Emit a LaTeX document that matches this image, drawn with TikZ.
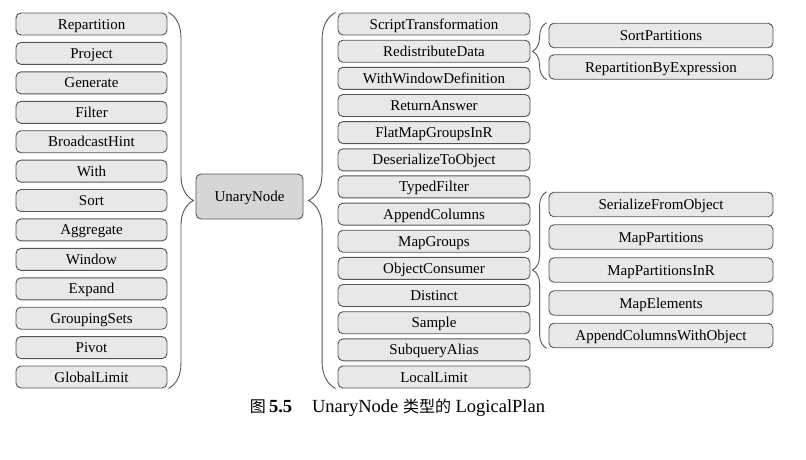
\documentclass[tikz,border=0pt]{standalone}
\usepackage{fontspec}
\setmainfont{Liberation Serif}
\newfontfamily\cjk{Noto Sans CJK SC}
\usetikzlibrary{decorations.pathreplacing}
\definecolor{boxfill}{RGB}{232,232,232}
\definecolor{unaryfill}{RGB}{214,214,214}
\definecolor{boxline}{RGB}{85,85,85}
\tikzset{
  planbox/.style={draw=boxline, fill=boxfill, rounded corners=5pt, line width=0.9pt,
    inner sep=0pt, minimum height=22pt, text height=10pt, text depth=0pt,
    font=\fontsize{15}{18}\selectfont},
  leftbox/.style={planbox, minimum width=151pt},
  midbox/.style={planbox, minimum width=192pt},
  rightbox/.style={planbox, minimum width=224pt, minimum height=24.5pt},
  groupbrace/.style={draw=boxline, line width=0.9pt, decorate,
    decoration={brace, amplitude=#1}}
}
\begin{document}
\begin{tikzpicture}[x=1pt, y=-1pt]
\useasboundingbox (0,0) rectangle (806,459);
\node[leftbox] (repartition) at (91.5,24) {Repartition};
\node[leftbox] (project) at (91.5,53.4) {Project};
\node[leftbox] (generate) at (91.5,82.8) {Generate};
\node[leftbox] (filter) at (91.5,112.3) {Filter};
\node[leftbox] (broadcasthint) at (91.5,141.7) {BroadcastHint};
\node[leftbox] (with) at (91.5,171.1) {With};
\node[leftbox] (sort) at (91.5,200.5) {Sort};
\node[leftbox] (aggregate) at (91.5,229.9) {Aggregate};
\node[leftbox] (window) at (91.5,259.4) {Window};
\node[leftbox] (expand) at (91.5,288.8) {Expand};
\node[leftbox] (groupingsets) at (91.5,318.2) {GroupingSets};
\node[leftbox] (pivot) at (91.5,347.6) {Pivot};
\node[leftbox] (globallimit) at (91.5,377) {GlobalLimit};

\node[planbox, fill=unaryfill, minimum width=107pt, minimum height=45pt] (unarynode) at (249.5,196.5) {UnaryNode};

\node[midbox] (scripttrans) at (434,24) {ScriptTransformation};
\node[midbox] (redistribute) at (434,51.2) {RedistributeData};
\node[midbox] (withwindow) at (434,78.3) {WithWindowDefinition};
\node[midbox] (returnanswer) at (434,105.5) {ReturnAnswer};
\node[midbox] (flatmapgroups) at (434,132.6) {FlatMapGroupsInR};
\node[midbox] (deserialize) at (434,159.8) {DeserializeToObject};
\node[midbox] (typedfilter) at (434,186.9) {TypedFilter};
\node[midbox] (appendcolumns) at (434,214.1) {AppendColumns};
\node[midbox] (mapgroups) at (434,241.2) {MapGroups};
\node[midbox] (objconsumer) at (434,268.4) {ObjectConsumer};
\node[midbox] (distinct) at (434,295.5) {Distinct};
\node[midbox] (sample) at (434,322.7) {Sample};
\node[midbox] (subqueryalias) at (434,349.8) {SubqueryAlias};
\node[midbox] (locallimit) at (434,377) {LocalLimit};

\node[rightbox] (sortpartitions) at (661,35.5) {SortPartitions};
\node[rightbox] (repartbyexpr) at (661,67) {RepartitionByExpression};

\node[rightbox] (serialize) at (661,204.5) {SerializeFromObject};
\node[rightbox] (mappartitions) at (661,237) {MapPartitions};
\node[rightbox] (mappartitionsr) at (661,270) {MapPartitionsInR};
\node[rightbox] (mapelements) at (661,303) {MapElements};
\node[rightbox] (appendwithobj) at (661,335.5) {AppendColumnsWithObject};

\draw[groupbrace=25pt] ([xshift=1pt]repartition.north east) -- ([xshift=1pt]globallimit.south east);
\draw[groupbrace=27pt] ([xshift=-2pt]locallimit.south west) -- ([xshift=-2pt]scripttrans.north west);
\draw[groupbrace=14pt] ([xshift=-2pt]repartbyexpr.south west) -- ([xshift=-2pt]sortpartitions.north west);
\draw[groupbrace=14pt] ([xshift=-2pt]appendwithobj.south west) -- ([xshift=-2pt]serialize.north west);

\node[font=\fontsize{18.5}{21}\selectfont] (caption) at (397.5,408)
  {{\cjk\fontsize{16}{18}\selectfont 图}\,\textbf{5.5}\hspace{20pt}UnaryNode
   {\cjk\fontsize{16}{18}\selectfont 类型的} LogicalPlan};
\end{tikzpicture}
\end{document}
